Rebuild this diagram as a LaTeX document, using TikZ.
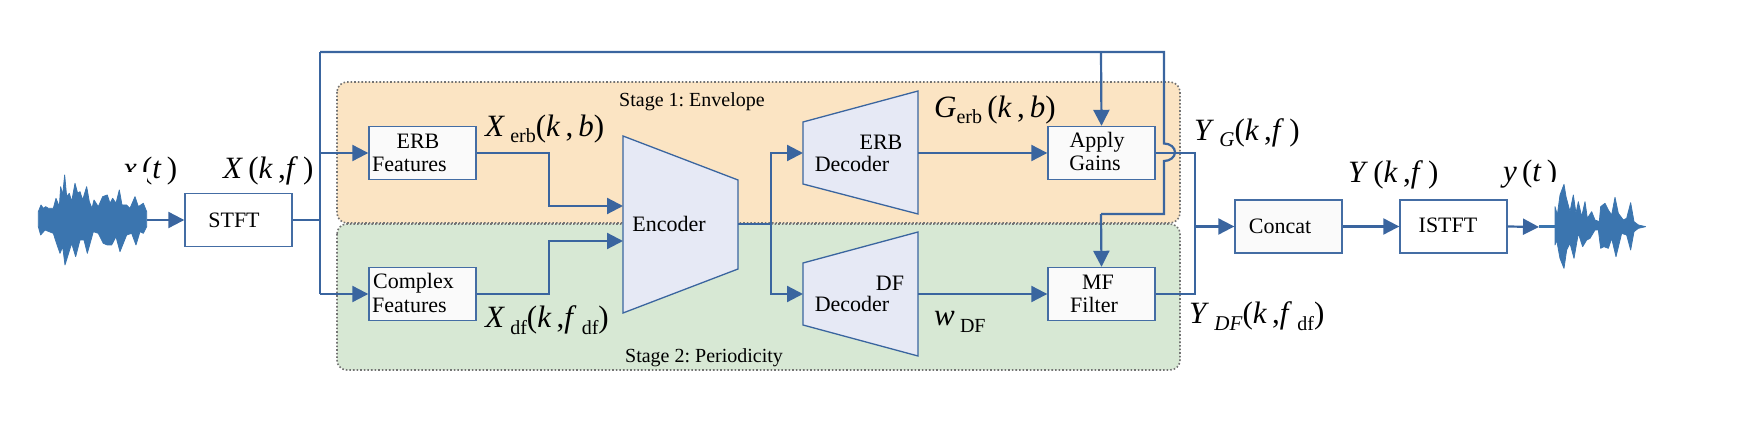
\documentclass[tikz,border=0pt]{standalone}
\usepackage{fontspec}
\setmainfont{Liberation Serif}
\usetikzlibrary{arrows.meta}
\definecolor{ln}{HTML}{3A659F}
\definecolor{wave}{HTML}{3B75AF}
\definecolor{trapfill}{HTML}{E6E9F5}
\definecolor{bandor}{HTML}{FBE4C3}
\definecolor{bandgr}{HTML}{D7E8D4}
\frenchspacing
\newcommand{\bigtxt}{\fontsize{31}{31}\selectfont}
\newcommand{\mi}[1]{\textit{#1}}
\newcommand{\subs}[1]{{\fontsize{20}{20}\selectfont #1}}
\newcommand{\subi}[1]{{\fontsize{21}{21}\selectfont\textit{#1}}}
\tikzset{
  band/.style={draw=black!55,line width=1.6pt,dotted,rounded corners=10pt},
  blockbox/.style={draw=ln!95,line width=1.4pt,fill=#1,inner sep=0pt,minimum width=107pt,minimum height=53pt},
  blockbox/.default={white},
  trap/.style={draw=ln,line width=1.3pt,fill=trapfill,line join=miter},
  lbl/.style={inner sep=0pt,font=\fontsize{22}{22}\selectfont},
  stagelbl/.style={inner sep=0pt,font=\fontsize{20}{20}\selectfont},
  mathlbl/.style={inner sep=0pt,anchor=base west,font=\bigtxt},
  conn/.style={draw=ln,line width=2.2pt},
  arr/.style={conn,-{Triangle[length=16pt,width=16pt,fill=ln]}},
  wavefill/.style={fill=wave,draw=wave,line width=0.8pt,line join=round}
}
\begin{document}
\begin{tikzpicture}[x=1pt,y=-1pt]
\useasboundingbox (0,0) rectangle (1746,438);
% bands
\draw[band,fill=bandor] (337,82) rectangle (1180,223);
\draw[band,fill=bandgr] (337,224) rectangle (1180,370);
% blocks
\node[blockbox] (stft) at (238.5,220) {};
\node[blockbox={black!2}] (erbf) at (422.5,153) {};
\node[blockbox={black!2}] (cplx) at (422.5,294) {};
\node[blockbox={black!2}] (gains) at (1101.5,153) {};
\node[blockbox={black!2}] (mf) at (1101.5,294) {};
\node[blockbox={black!2}] (concat) at (1288.5,226.5) {};
\node[blockbox] (istft) at (1453.5,226.5) {};
% trapezoids
\coordinate (encIn1) at (623,206);
\coordinate (encIn2) at (623,241);
\coordinate (encOut) at (738,224);
\coordinate (erbIn) at (803,153);
\coordinate (erbOut) at (918,153);
\coordinate (dfIn) at (803,294);
\coordinate (dfOut) at (918,294);
\draw[trap] (623,136) -- (738,180) -- (738,269) -- (623,313) -- cycle;
\draw[trap] (803,122) -- (918,91) -- (918,214) -- (803,184) -- cycle;
\draw[trap] (803,263) -- (918,232) -- (918,356) -- (803,325) -- cycle;
% junctions
\coordinate (jL) at (320,220);
\coordinate (jLt) at (320,52);
\coordinate (jLe) at (320,153);
\coordinate (jLb) at (320,294);
\coordinate (jTg) at (1101,52);
\coordinate (jTr) at (1164,52);
\coordinate (hopA) at (1164,143.5);
\coordinate (hopB) at (1164,161);
\coordinate (jMr) at (1164,214);
\coordinate (jMf) at (1101,214);
\coordinate (jE) at (771,224);
\coordinate (jR) at (1195,153);
\coordinate (jRm) at (1195,226.5);
\coordinate (jRb) at (1195,294);
\coordinate (wL) at (147,220);
\coordinate (wR) at (1539,227);
\coordinate (wRe) at (1556,227);
% connectors
\draw[conn] (stft.east) -- (jL);
\draw[conn] (jLt) -- (jLb);
\draw[conn] (jLt) -- (jTr) -- (hopA) arc[start angle=90,end angle=-90,x radius=11pt,y radius=8.75pt] -- (hopB) -- (jMr) -- (jMf);
\draw[arr] (jTg) -- (gains.north);
\draw[arr] (jMf) -- (mf.north);
\draw[arr] (jLe) -- (erbf.west);
\draw[arr] (jLb) -- (cplx.west);
\draw[arr] (erbf.east) -- (549,153) |- (encIn1);
\draw[arr] (cplx.east) -- (549,294) |- (encIn2);
\draw[conn] (encOut) -- (jE);
\draw[arr] (jE) |- (erbIn);
\draw[arr] (jE) |- (dfIn);
\draw[arr] (erbOut) -- (gains.west);
\draw[arr] (dfOut) -- (mf.west);
\draw[conn] (gains.east) -- (jR) -- (jRb) -- (mf.east);
\draw[arr] (jRm) -- (concat.west);
\draw[arr] (concat.east) -- (istft.west);
\draw[arr] (wL) -- (stft.west);
\draw[arr] (istft.east) -- (wR);
\draw[conn,line width=3pt,draw=wave] (wR) -- (wRe);
% block text
\node[lbl] (t1) at (234,220) {STFT};
\node[lbl] (t2) at (418,141) {ERB};
\node[lbl,anchor=west] (t3) at (372,164) {Features};
\node[lbl,anchor=west] (t4) at (373,283) {Complex};
\node[lbl,anchor=west] (t5) at (372,305) {Features};
\node[lbl] (t6) at (669,224) {Encoder};
\node[lbl] (t7) at (881,142) {ERB};
\node[lbl] (t8) at (852,164) {Decoder};
\node[lbl] (t9) at (890,283) {DF};
\node[lbl] (t10) at (852,304) {Decoder};
\node[lbl] (t11) at (1097,142) {Apply};
\node[lbl] (t12) at (1095,163) {Gains};
\node[lbl] (t13) at (1098,282) {MF};
\node[lbl] (t14) at (1094,305) {Filter};
\node[lbl] (t15) at (1280,226) {Concat};
\node[lbl] (t16) at (1448,225) {ISTFT};
\node[stagelbl] (s1) at (692,102) {Stage 1: Envelope};
\node[stagelbl] (s2) at (704,358) {Stage 2: Periodicity};
% math labels
\node[mathlbl] (m1) at (123,179) {\mi{x}\,(\mi{t}\,)};
\node[mathlbl] (m2) at (223,179) {\mi{X}\,(\mi{k}\,,\mi{f}\,)};
\node[mathlbl] (m3) at (485,137) {\mi{X}\,\raisebox{-6pt}{\subs{erb}}(\mi{k}\,,\,\mi{b})};
\node[mathlbl] (m4) at (934,118) {\mi{G}\raisebox{-6pt}{\subs{erb}}\,(\mi{k}\,,\,\mi{b})};
\node[mathlbl] (m5) at (1194,141) {\mi{Y}\,\raisebox{-6pt}{\subi{G}}(\mi{k}\,,\mi{f}\,)};
\node[mathlbl] (m6) at (485,328) {\mi{X}\,\raisebox{-6pt}{\subs{df}}(\mi{k}\,,\mi{f}\,\raisebox{-6pt}{\subs{df}})};
\node[mathlbl] (m7) at (934,326) {\mi{w}\,\raisebox{-7pt}{\subs{DF}}};
\node[mathlbl] (m8) at (1189,324) {\mi{Y}\,\raisebox{-6pt}{\subi{DF}}(\mi{k}\,,\mi{f}\,\raisebox{-6pt}{\subs{df}})};
\node[mathlbl] (m9) at (1348,183) {\mi{Y}\,(\mi{k}\,,\mi{f}\,)};
\node[mathlbl] (m10) at (1503,182) {\mi{y}\,(\mi{t}\,)};
% white backing of the waveform pictures
\fill[white] (30,172) rectangle (147,195);
\fill[white] (1543,182) rectangle (1560,195);
% waveforms
\begin{scope}[shift={(30,165)},x=0.3333pt,y=-0.3333pt]
\filldraw[wavefill] (25,140)--(33,120)--(40,130)--(47,125)--(55,130)--(70,130)--(78,100)--(88,125)--(92,65)--(98,90)--(104,30)--(110,95)--(118,85)--(125,110)--(135,55)--(143,85)--(150,80)--(158,105)--(170,65)--(178,110)--(186,130)--(192,105)--(205,125)--(218,95)--(232,90)--(240,115)--(248,100)--(258,115)--(268,75)--(276,120)--(290,120)--(300,130)--(315,95)--(325,125)--(340,115)--(350,140)--(350,185)--(340,205)--(330,200)--(318,240)--(305,205)--(290,210)--(270,260)--(258,215)--(245,240)--(232,240)--(220,235)--(205,205)--(190,200)--(172,265)--(162,225)--(150,225)--(137,275)--(125,235)--(105,300)--(98,245)--(90,265)--(78,230)--(70,205)--(45,195)--(32,210)--(25,185)--cycle;
\end{scope}
\begin{scope}[shift={(1480,150)},x=0.3333pt,y=-0.3333pt]
\filldraw[wavefill] (225,170)--(232,195)--(240,135)--(252,103)--(258,140)--(270,185)--(280,135)--(288,190)--(295,155)--(305,200)--(315,155)--(322,205)--(335,185)--(345,210)--(358,215)--(362,170)--(375,160)--(385,180)--(395,195)--(405,142)--(415,190)--(430,210)--(440,205)--(452,158)--(462,215)--(475,225)--(497,230)--(475,235)--(462,245)--(452,300)--(440,255)--(425,250)--(408,320)--(395,265)--(385,295)--(372,290)--(362,295)--(355,240)--(345,240)--(330,265)--(320,270)--(308,290)--(295,250)--(282,325)--(270,280)--(260,300)--(252,355)--(240,325)--(230,270)--(225,285)--cycle;
\end{scope}
\end{tikzpicture}
\end{document}
